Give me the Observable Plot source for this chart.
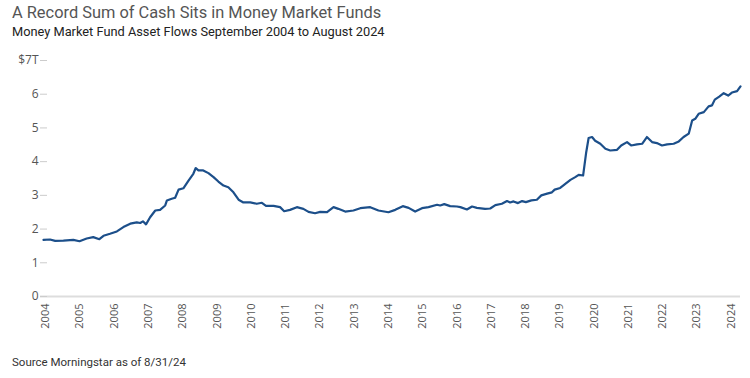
<!DOCTYPE html>
<html>
<head>
<meta charset="utf-8">
<script src="https://cdn.jsdelivr.net/npm/d3@7"></script>
<script src="https://cdn.jsdelivr.net/npm/@observablehq/plot@0.6"></script>
<style>
  html, body { margin: 0; padding: 0; background: #fff; }
  #wrap { position: relative; width: 750px; height: 378px; font-family: Roboto, "Open Sans", sans-serif; }
  #title { position: absolute; left: 12px; top: 3px; font-size: 16.4px; color: #555; white-space: nowrap; }
  #subtitle { position: absolute; left: 12px; top: 24px; font-size: 12.8px; color: #222; white-space: nowrap; }
  #chart { position: absolute; left: 0; top: 50px; }
  #caption { position: absolute; left: 12px; top: 355px; font-size: 11.5px; color: #333; white-space: nowrap; }
</style>
</head>
<body>
<div id="wrap">
  <div id="title">A Record Sum of Cash Sits in Money Market Funds</div>
  <div id="subtitle">Money Market Fund Asset Flows September 2004 to August 2024</div>
  <div id="chart"></div>
  <div id="caption">Source Morningstar as of 8/31/24</div>
</div>
<script>
// Position along the year axis and assets in $ trillions
const years = [
  2003.94, 2004.13, 2004.28, 2004.52, 2004.81, 2004.99, 2005.20, 2005.39, 2005.57, 2005.69,
  2005.88, 2006.08, 2006.27, 2006.47, 2006.66, 2006.76, 2006.84, 2006.93, 2007.05, 2007.20,
  2007.34, 2007.49, 2007.54, 2007.68, 2007.78, 2007.88, 2008.02, 2008.17, 2008.31, 2008.38,
  2008.46, 2008.60, 2008.75, 2008.90, 2009.04, 2009.19, 2009.33, 2009.48, 2009.63, 2009.77,
  2009.97, 2010.16, 2010.31, 2010.43, 2010.65, 2010.84, 2010.96, 2011.13, 2011.33, 2011.52,
  2011.67, 2011.86, 2012.01, 2012.21, 2012.40, 2012.54, 2012.74, 2012.98, 2013.18, 2013.47,
  2013.71, 2014.00, 2014.20, 2014.42, 2014.59, 2014.78, 2014.98, 2015.17, 2015.42, 2015.51,
  2015.63, 2015.80, 2016.00, 2016.10, 2016.29, 2016.44, 2016.58, 2016.82, 2016.97, 2017.12,
  2017.31, 2017.46, 2017.55, 2017.65, 2017.78, 2017.90, 2018.01, 2018.17, 2018.33, 2018.46,
  2018.63, 2018.77, 2018.85, 2019.01, 2019.16, 2019.31, 2019.45, 2019.55, 2019.68, 2019.77,
  2019.84, 2019.94, 2020.03, 2020.18, 2020.33, 2020.47, 2020.67, 2020.79, 2020.96, 2021.08,
  2021.25, 2021.40, 2021.54, 2021.69, 2021.83, 2021.98, 2022.13, 2022.32, 2022.47, 2022.61,
  2022.76, 2022.86, 2022.95, 2023.05, 2023.20, 2023.34, 2023.44, 2023.52, 2023.65, 2023.78,
  2023.91, 2024.02, 2024.17, 2024.27
];
const assets = [
  1.68, 1.69, 1.65, 1.66, 1.68, 1.64, 1.72, 1.76, 1.70, 1.80,
  1.86, 1.93, 2.06, 2.16, 2.20, 2.18, 2.23, 2.14, 2.35, 2.55,
  2.57, 2.70, 2.85, 2.90, 2.93, 3.17, 3.21, 3.44, 3.64, 3.81,
  3.74, 3.74, 3.66, 3.54, 3.41, 3.29, 3.24, 3.09, 2.87, 2.79,
  2.79, 2.75, 2.78, 2.69, 2.69, 2.65, 2.53, 2.57, 2.65, 2.60,
  2.51, 2.47, 2.51, 2.50, 2.65, 2.60, 2.52, 2.55, 2.62, 2.65,
  2.55, 2.50, 2.57, 2.68, 2.63, 2.52, 2.62, 2.65, 2.72, 2.70,
  2.74, 2.68, 2.67, 2.65, 2.58, 2.67, 2.63, 2.60, 2.61, 2.71,
  2.75, 2.83, 2.79, 2.82, 2.77, 2.83, 2.80, 2.85, 2.87, 3.00,
  3.05, 3.09, 3.17, 3.22, 3.34, 3.46, 3.54, 3.61, 3.59, 4.28,
  4.70, 4.73, 4.62, 4.53, 4.38, 4.33, 4.35, 4.48, 4.58, 4.48,
  4.51, 4.53, 4.73, 4.58, 4.55, 4.48, 4.51, 4.53, 4.60, 4.73,
  4.83, 5.22, 5.27, 5.42, 5.47, 5.64, 5.67, 5.84, 5.93, 6.03,
  5.96, 6.05, 6.09, 6.23
];
const xTicks = [2004, 2005, 2006, 2007, 2008, 2009, 2010, 2011, 2012, 2013, 2014,
                2015, 2016, 2017, 2018, 2019, 2020, 2021, 2022, 2023, 2024];
const yTicks = [0, 1, 2, 3, 4, 5, 6, 7];
const yTickLabels = ["0", "1", "2", "3", "4", "5", "6", "$7T"];

const data = years.map((t, i) => ({t, v: assets[i]}));

const chart = Plot.plot({
  width: 750,
  height: 286,
  marginLeft: 43,
  marginRight: 10,
  marginTop: 10,
  marginBottom: 40,
  style: {fontFamily: "'Open Sans', sans-serif", fontSize: "11px", background: "transparent"},
  x: {label: null},
  y: {domain: [0, 7], label: null},
  marks: [
    Plot.ruleY([0], {stroke: "#dddddd", strokeWidth: 2, insetLeft: -3}),
    Plot.axisY(yTicks, {
      tickSize: 7, tickPadding: 2, dx: 4, stroke: "#cccccc", fill: "#555",
      fontSize: 12, label: null,
      tickFormat: d => yTickLabels[yTicks.indexOf(d)]
    }),
    Plot.axisX(xTicks, {
      tickSize: 0, tickPadding: 7, tickRotate: -90, fill: "#555",
      fontSize: 11, label: null, tickFormat: d => String(d)
    }),
    Plot.lineY(data, {x: "t", y: "v", stroke: "#1c4f8a", strokeWidth: 2.2})
  ]
});
document.getElementById("chart").appendChild(chart);
</script>
</body>
</html>
